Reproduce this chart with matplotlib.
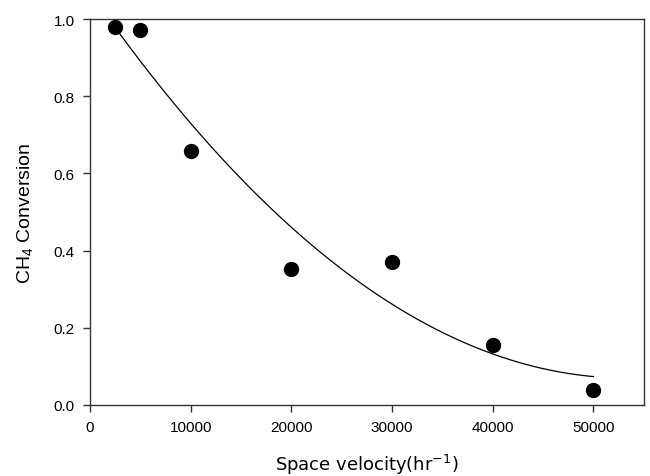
import numpy as np
import matplotlib
matplotlib.use('Agg')
from matplotlib import pyplot as plt

# data
velocity = [2500, 5000, 10000, 20000, 30000, 40000, 50000]
conversion = [0.979, 0.972, 0.657, 0.352, 0.371, 0.156, 0.038]

# quadratic regression line, as in the original
coef = np.polyfit(velocity, conversion, 2)
xfit = np.linspace(min(velocity), max(velocity), 200)
yfit = np.polyval(coef, xfit)

plt.rcParams['font.family'] = ['Liberation Sans', 'DejaVu Sans']
plt.rcParams['mathtext.fontset'] = 'custom'
plt.rcParams['mathtext.rm'] = 'Liberation Sans'

fig = plt.figure(figsize=(6.5, 4.77), dpi=100)
ax = fig.add_axes([0.1385, 0.149, 0.852, 0.809])

ax.plot(xfit, yfit, color='black', linewidth=0.9)
ax.plot(velocity, conversion, 'o', color='black', markersize=10)

ax.set_xlim(0, 55000)
ax.set_ylim(0, 1.0)
ax.set_xticks([0, 10000, 20000, 30000, 40000, 50000])
ax.set_yticks([0.0, 0.2, 0.4, 0.6, 0.8, 1.0])
ax.set_yticklabels(['0.0', '0.2', '0.4', '0.6', '0.8', '1.0'])
ax.tick_params(direction='out', length=5, width=1, labelsize=11, color='#333333', pad=6)
for s in ax.spines.values():
    s.set_linewidth(1)
    s.set_color('#333333')

ax.set_xlabel('Space velocity(hr$^{\\mathregular{-1}}$)', fontsize=13, family='DejaVu Sans', labelpad=13)
ax.set_ylabel('CH$_{\\mathregular{4}}$ Conversion', fontsize=14, labelpad=13)

fig.savefig('out.png', dpi=100)
